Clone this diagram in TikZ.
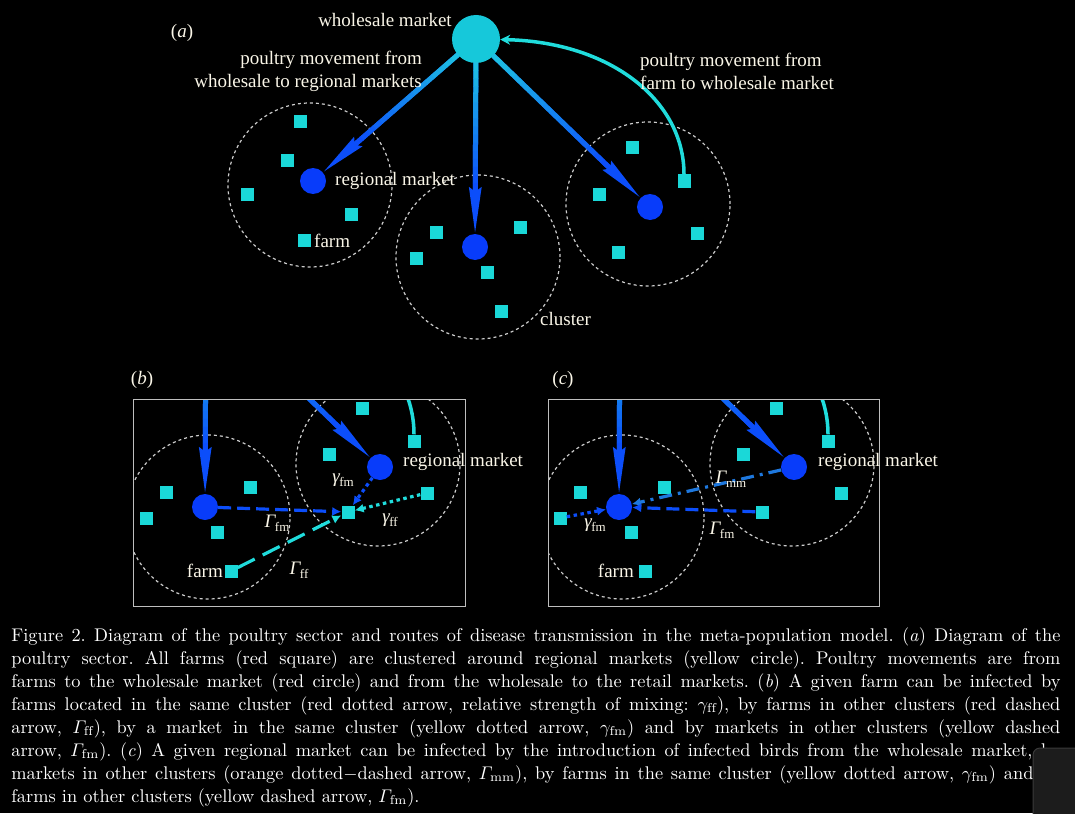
\documentclass[tikz,border=0pt]{standalone}
\usepackage{fontspec}
\usepackage{amsmath}
\newfontfamily\tms{Liberation Serif}
\usetikzlibrary{arrows.meta,calc}
\definecolor{sq}{RGB}{26,216,216}
\definecolor{whc}{RGB}{22,200,218}
\definecolor{mblue}{RGB}{8,60,250}
\definecolor{astart}{RGB}{30,192,226}
\definecolor{aend}{RGB}{12,78,250}
\definecolor{curvec}{RGB}{32,220,220}
\definecolor{mmc}{RGB}{30,120,222}
\definecolor{txt}{RGB}{250,246,232}
\definecolor{clc}{RGB}{205,205,205}
\definecolor{frc}{RGB}{190,190,190}
\definecolor{boxc}{RGB}{28,28,28}
\definecolor{boxe}{RGB}{58,58,58}

\newcommand\gradarrow[2]{%
  \draw[bigline, color=aend, -{Stealth[length=46pt,width=12pt,inset=4pt]}] (#1) -- (#2);
  \coordinate (gs) at ($(#1.center)!23pt!(#2.center)$);
  \coordinate (ge) at ($(#2.center)!56pt!(#1.center)$);
  \foreach \i in {0,...,15}{%
    \pgfmathsetmacro\pa{\i/16}%
    \pgfmathsetmacro\pb{(\i+1)/16+0.004}%
    \pgfmathtruncatemacro\pc{100-100*\i/15}%
    \draw[bigline, color=astart!\pc!aend] ($(gs)!\pa!(ge)$) -- ($(gs)!\pb!(ge)$);
  }%
}

\newcommand\scene[1]{%
  \draw[clus] (310,185) circle[radius=82pt];
  \draw[clus] (478,257) circle[radius=82pt];
  \draw[clus] (648,204) circle[radius=82pt];
  \node[whl] (#1w) at (476,39) {};
  \node[mkt] (#1m1) at (313,181) {};
  \node[mkt] (#1m2) at (475,247) {};
  \node[mkt] (#1m3) at (650,207) {};
  \node[farmsq] (#1c1a) at (300,122) {};
  \node[farmsq] (#1c1b) at (287,161) {};
  \node[farmsq] (#1c1c) at (247,194) {};
  \node[farmsq] (#1c1d) at (351,214) {};
  \node[farmsq] (#1c1e) at (304,240) {};
  \node[farmsq] (#1c2a) at (436,232) {};
  \node[farmsq] (#1c2b) at (416,258) {};
  \node[farmsq] (#1c2c) at (520,227) {};
  \node[farmsq] (#1c2d) at (487,272) {};
  \node[farmsq] (#1c2e) at (501,311) {};
  \node[farmsq] (#1c3a) at (632,148) {};
  \node[farmsq] (#1c3b) at (684,181) {};
  \node[farmsq] (#1c3c) at (599,194) {};
  \node[farmsq] (#1c3d) at (697,233) {};
  \node[farmsq] (#1c3e) at (618,252) {};
  \gradarrow{#1w}{#1m1}
  \gradarrow{#1w}{#1m2}
  \gradarrow{#1w}{#1m3}
  \draw[curvec, line width=3.5pt, -{Stealth[length=10pt,width=10pt]}]
    (#1c3b.north) .. controls (684,100) and (610,42) .. (#1w);
}

\newcommand\glab[2]{{\itshape #1}\kern-0.5pt\raisebox{-4pt}{\fontsize{13}{13}\selectfont #2}}

\begin{document}
\begin{tikzpicture}[x=1pt,y=-1pt,
  clus/.style={draw=clc, line width=1.2pt, dash pattern=on 3pt off 3pt},
  whl/.style={circle, fill=whc, minimum size=48pt, inner sep=0pt},
  mkt/.style={circle, fill=mblue, minimum size=26pt, inner sep=0pt},
  farmsq/.style={rectangle, fill=sq, minimum size=13pt, inner sep=0pt},
  bigline/.style={line width=5pt},
  lbl/.style={text=txt, font=\tms\fontsize{19}{23}\selectfont, inner sep=0pt},
  frm/.style={draw=frc, line width=0.9pt},
  thinarr/.style={line width=3.2pt, -{Latex[length=9pt,width=9pt]}},
  dotline/.style={dash pattern=on 3.5pt off 3.5pt},
  dashline/.style={dash pattern=on 13pt off 6pt},
  longdash/.style={dash pattern=on 19pt off 9pt},
  dashdot/.style={dash pattern=on 13pt off 6pt on 3pt off 6pt},
  capl/.style={anchor=base west, inner sep=0pt, scale=1.835, text=white, font=\fontsize{10}{12.5}\selectfont\frenchspacing}
]
\fill[black] (0,0) rectangle (1075,813);
\useasboundingbox (0,0) rectangle (1075,813);

% ---------- panel (a)
\scene{a}
\node[lbl] (la) at (182,33) {(\textit{a})};
\node[lbl] (lwm) at (385,20) {wholesale market};
\node[lbl, anchor=east, align=right] (lw2r) at (422,71) {poultry movement from\\wholesale to regional markets};
\node[lbl, anchor=west, align=left] (lf2w) at (640,71) {poultry movement from\\farm to wholesale market};
\node[lbl, anchor=west] (lrm) at (335,181) {regional market};
\node[lbl, anchor=west] (lfarm) at (314,241) {farm};
\node[lbl, anchor=west] (lcl) at (540,319) {cluster};

% ---------- panel (b)
\begin{scope}
  \clip (133,399) rectangle (465,606);
  \begin{scope}[shift={(-270,260)}]
    \scene{b}
  \end{scope}
  \draw[thinarr, aend, dashline] (bm2) -- (bc3e);
  \draw[thinarr, curvec, longdash] (bc2e) -- (bc3e);
  \draw[thinarr, aend, dotline] (bm3) -- (bc3e);
  \draw[thinarr, curvec, dotline] (bc3d) -- (bc3e);
\end{scope}
\draw[frm] (133,399) rectangle (465,606);
\node[lbl] (lb) at (142,380) {(\textit{b})};
\node[lbl, anchor=west] (lbrm) at (403,462) {regional market};
\node[lbl, anchor=east] (lbfarm) at (223,571) {farm};
\node[lbl] (lbgfm) at (343,480) {\glab{γ}{fm}};
\node[lbl] (lbgff) at (390,520) {\glab{γ}{ff}};
\node[lbl] (lbGfm) at (277,523) {\glab{Γ}{fm}};
\node[lbl] (lbGff) at (299,570) {\glab{Γ}{ff}};

% ---------- panel (c)
\begin{scope}
  \clip (548,399) rectangle (879,606);
  \begin{scope}[shift={(144,260)}]
    \scene{c}
  \end{scope}
  \draw[thinarr, mmc, dashdot] (cm3) -- (cm2);
  \draw[thinarr, aend, dashline] (cc3e) -- (cm2);
  \draw[thinarr, aend, dotline] (cc2b) -- (cm2);
\end{scope}
\draw[frm] (548,399) rectangle (879,606);
\node[lbl] (lc) at (563,380) {(\textit{c})};
\node[lbl, anchor=west] (lcrm) at (818,462) {regional market};
\node[lbl, anchor=east] (lcfarm) at (634,571) {farm};
\node[lbl] (lcGmm) at (731,479) {\glab{Γ}{mm}};
\node[lbl] (lcgfm) at (595,525) {\glab{γ}{fm}};
\node[lbl] (lcGfm) at (722,530) {\glab{Γ}{fm}};

% ---------- caption
\node[capl] (cap1) at (11,641) {\hbox to 571.7pt{Figure 2. Diagram of the poultry sector and routes of disease transmission in the meta-population model. (\textit{a}) Diagram of the}};
\node[capl] (cap2) at (11,664) {\hbox to 571.7pt{poultry sector. All farms (red square) are clustered around regional markets (yellow circle). Poultry movements are from}};
\node[capl] (cap3) at (11,687) {\hbox to 571.7pt{farms to the wholesale market (red circle) and from the wholesale to the retail markets. (\textit{b}) A given farm can be infected by}};
\node[capl] (cap4) at (11,710) {\hbox to 571.7pt{farms located in the same cluster (red dotted arrow, relative strength of mixing: $\gamma_{\mathrm{ff}}$), by farms in other clusters (red dashed}};
\node[capl] (cap5) at (11,733) {\hbox to 571.7pt{arrow, $\varGamma_{\mathrm{ff}}$), by a market in the same cluster (yellow dotted arrow, $\gamma_{\mathrm{fm}}$) and by markets in other clusters (yellow dashed}};
\node[capl] (cap6) at (11,756) {\hbox to 571.7pt{arrow, $\varGamma_{\mathrm{fm}}$). (\textit{c}) A given regional market can be infected by the introduction of infected birds from the wholesale market, by}};
\node[capl] (cap7) at (11,779) {\hbox to 557pt{markets in other clusters (orange dotted$-$dashed arrow, $\varGamma_{\mathrm{mm}}$), by farms in the same cluster (yellow dotted arrow, $\gamma_{\mathrm{fm}}$) and}};
\node[capl] (cap8) at (11,802) {farms in other clusters (yellow dashed arrow, $\varGamma_{\mathrm{fm}}$).};

\draw[fill=boxc, draw=boxe, line width=1pt, rounded corners=7pt] (1033,748) rectangle (1085,823);
\end{tikzpicture}
\end{document}
